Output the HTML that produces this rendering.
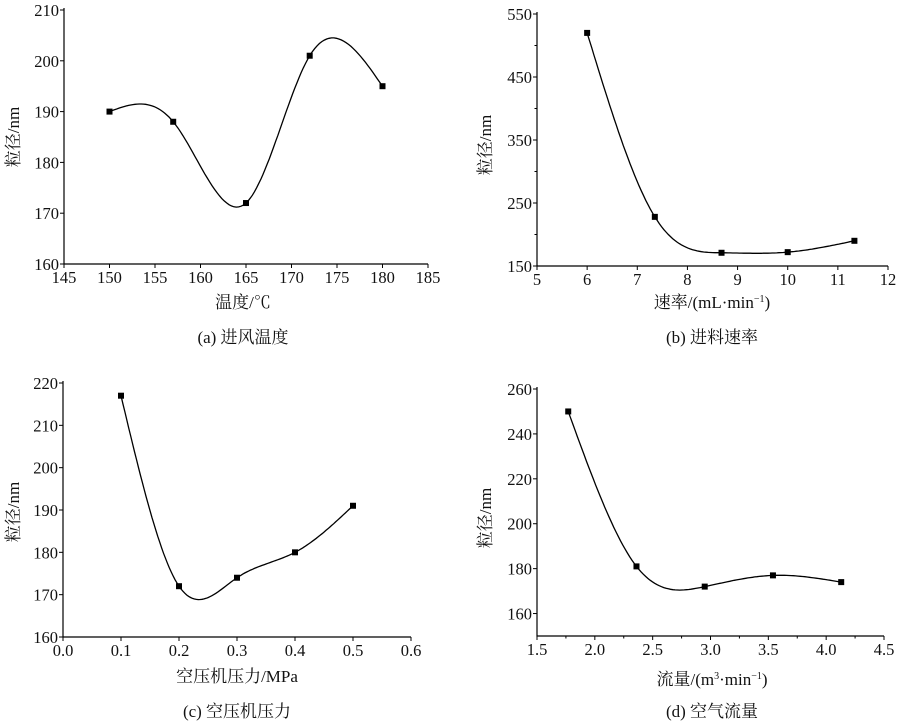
<!DOCTYPE html>
<html><head><meta charset="utf-8"><style>
body{margin:0;background:#fff}
svg{display:block}
text{font-family:"Liberation Serif","Noto Serif CJK SC","Noto Sans CJK SC",serif;fill:#111}
</style></head><body>
<svg id="s" width="900" height="723" xmlns="http://www.w3.org/2000/svg"></svg>
<script>
const S=document.getElementById('s');let out='';
function spline(P){const n=P.length,x=P.map(p=>p[0]),y=P.map(p=>p[1]);const h=[],a=[],l=[1],mu=[0],z=[0],c=new Array(n).fill(0),b=[],d=[];
for(let i=0;i<n-1;i++)h[i]=x[i+1]-x[i];
for(let i=1;i<n-1;i++)a[i]=3/h[i]*(y[i+1]-y[i])-3/h[i-1]*(y[i]-y[i-1]);
for(let i=1;i<n-1;i++){l[i]=2*(x[i+1]-x[i-1])-h[i-1]*mu[i-1];mu[i]=h[i]/l[i];z[i]=(a[i]-h[i-1]*z[i-1])/l[i];}
l[n-1]=1;z[n-1]=0;c[n-1]=0;
for(let j=n-2;j>=0;j--){c[j]=z[j]-mu[j]*c[j+1];b[j]=(y[j+1]-y[j])/h[j]-h[j]*(c[j+1]+2*c[j])/3;d[j]=(c[j+1]-c[j])/(3*h[j]);}
let pts=[];for(let i=0;i<n-1;i++){for(let k=0;k<=30;k++){const t=h[i]*k/30;pts.push([x[i]+t,y[i]+b[i]*t+c[i]*t*t+d[i]*t*t*t]);}}return pts;}
function chart(o){
const X=v=>o.x0+(v-o.xa)/(o.xb-o.xa)*(o.x1-o.x0), Y=v=>o.y0-(v-o.ya)/(o.yb-o.ya)*(o.y0-o.y1);
out+=`<path d="M${o.x0} ${o.y1-2}V${o.y0}H${o.x1}" fill="none" stroke="#000" stroke-width="1.2"/>`;
o.xt.forEach(v=>{const px=X(v);out+=`<line x1="${px}" y1="${o.y0}" x2="${px}" y2="${o.y0+4}" stroke="#000"/><text x="${px}" y="${o.y0+19}" font-size="16.5" text-anchor="middle">${o.xf(v)}</text>`;});
(o.xm||[]).forEach(v=>{const px=X(v);out+=`<line x1="${px}" y1="${o.y0}" x2="${px}" y2="${o.y0+2.5}" stroke="#000"/>`;});
o.yt.forEach(v=>{const py=Y(v);out+=`<line x1="${o.x0}" y1="${py}" x2="${o.x0-4}" y2="${py}" stroke="#000"/><text x="${o.x0-5}" y="${py+6}" font-size="16.5" text-anchor="end">${v}</text>`;});
(o.ym||[]).forEach(v=>{const py=Y(v);out+=`<line x1="${o.x0}" y1="${py}" x2="${o.x0-2.5}" y2="${py}" stroke="#000"/>`;});
const sp=spline(o.p.map(p=>[X(p[0]),Y(p[1])]));
out+=`<polyline points="${sp.map(p=>p[0].toFixed(1)+','+p[1].toFixed(1)).join(' ')}" fill="none" stroke="#000" stroke-width="1.3"/>`;
o.p.forEach(p=>{out+=`<rect x="${X(p[0])-3}" y="${Y(p[1])-3}" width="6" height="6" fill="#000"/>`;});
out+=`<text x="${o.yl[0]}" y="${o.yl[1]}" font-size="17" text-anchor="middle" transform="rotate(-90 ${o.yl[0]} ${o.yl[1]})">粒径/nm</text>`;
out+=`<text x="${o.cx}" y="${o.xly}" font-size="17" text-anchor="middle">${o.xl}</text>`;
out+=`<text x="${o.cx}" y="${o.cy}" font-size="17" text-anchor="middle">${o.cap}</text>`;}
const r=(a,b,s)=>{let v=[];for(let x=a;x<=b+1e-9;x+=s)v.push(+x.toFixed(3));return v;};
chart({x0:64,x1:428,y0:264,y1:10,xa:145,xb:185,ya:160,yb:210,xt:r(145,185,5),xf:v=>v,yt:r(160,210,10),
p:[[150,190],[157,188],[165,172],[172,201],[180,195]],yl:[19,137],cx:243,xly:308,xl:"温度/℃",cy:343,cap:"(a) 进风温度"});
chart({x0:537,x1:888,y0:266,y1:14,xa:5,xb:12,ya:150,yb:550,xt:r(5,12,1),xf:v=>v,yt:[150,250,350,450,550],ym:[200,300,400,500],
p:[[6,520],[7.35,228],[8.68,171],[10,172],[11.33,190]],yl:[491,145],cx:712,xly:308,xl:"速率/(mL·min<tspan font-size='10' dy='-6'>−1</tspan><tspan dy='6'>)</tspan>",cy:343,cap:"(b) 进料速率"});
chart({x0:63,x1:411,y0:637,y1:383,xa:0,xb:0.6,ya:160,yb:220,xt:r(0,0.6,0.1),xf:v=>v.toFixed(1),yt:r(160,220,10),
p:[[0.1,217],[0.2,172],[0.3,174],[0.4,180],[0.5,191]],yl:[19,512],cx:237,xly:682,xl:"空压机压力/MPa",cy:717,cap:"(c) 空压机压力"});
chart({x0:537,x1:884,y0:636,y1:389,xa:1.5,xb:4.5,ya:150,yb:260,xt:r(1.5,4.5,0.5),xf:v=>v.toFixed(1),xm:r(1.75,4.25,0.5),yt:r(160,260,20),
p:[[1.77,250],[2.36,181],[2.95,172],[3.54,177],[4.13,174]],yl:[491,518],cx:712,xly:685,xl:"流量/(m<tspan font-size='10' dy='-6'>3</tspan><tspan dy='6'>·min</tspan><tspan font-size='10' dy='-6'>−1</tspan><tspan dy='6'>)</tspan>",cy:717,cap:"(d) 空气流量"});
S.innerHTML=out;
</script>
</body></html>
